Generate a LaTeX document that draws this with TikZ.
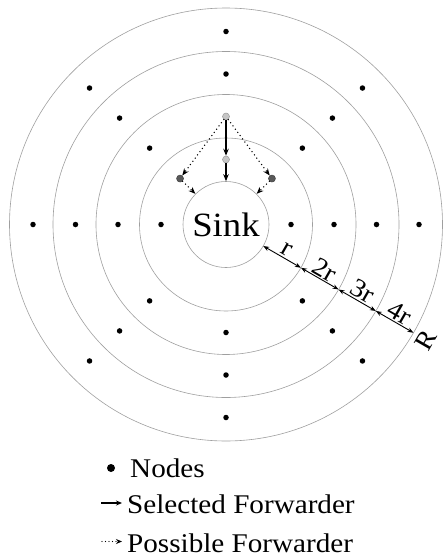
\documentclass[tikz,border=0pt]{standalone}
\usepackage{fontspec}
\setmainfont[FakeStretch=1.08]{Liberation Serif}
\usetikzlibrary{arrows.meta}
\begin{document}
\begin{tikzpicture}[x=1pt,y=-1pt,
  ring/.style={draw=gray!75, line width=0.6pt},
  dot/.style={circle, fill=black, inner sep=0pt, minimum size=5.5pt},
  lgdot/.style={circle, fill=gray!45, draw=gray!80, line width=0.5pt, inner sep=0pt, minimum size=7pt},
  dkdot/.style={circle, fill=gray!70!black, draw=gray!50!black, line width=0.5pt, inner sep=0pt, minimum size=7pt},
  sel/.style={line width=1.1pt, -{Stealth[length=7pt,width=5.5pt]}},
  posf/.style={line width=1.5pt, line cap=round, dash pattern=on 0pt off 4pt, -{Stealth[length=7pt,width=5.5pt]}},
  dim/.style={line width=0.9pt, {Stealth[length=6pt,width=4.5pt]}-{Stealth[length=6pt,width=4.5pt]}},
  lab/.style={font=\fontsize{26}{26}\selectfont, rotate=-30, anchor=south, inner sep=1.5pt},
  legtext/.style={font=\fontsize{27}{27}\selectfont, anchor=base west, inner sep=0pt}
]
\useasboundingbox (0,0) rectangle (443,557);
\coordinate (C) at (226,224.5);
% rings
\foreach \r in {86.5,130,173,216.5} \draw[ring] (C) circle[radius=\r pt];
\node[circle, draw=gray!75, line width=0.6pt, minimum size=86pt, inner sep=0pt,
      font=\fontsize{34}{34}\selectfont] (sink) at (C) {Sink};
% band 1
\foreach \a in {0,180,225,270,315}
  \node[dot] (b1-\a) at ([shift={(\a:65)}]C) {};
\node[lgdot] (g1) at ([shift={(-90:65)}]C) {};
\node[dkdot] (k1l) at ([shift={(-135:65)}]C) {};
\node[dkdot] (k1r) at ([shift={(-45:65)}]C) {};
% band 2
\foreach \a in {0,45,135,180,225,270,315}
  \node[dot] (b2-\a) at ([shift={(-\a:108)}]C) {};
\node[lgdot] (g2) at ([shift={(-90:108)}]C) {};
% band 3 and 4
\foreach \a in {0,45,90,135,180,225,270,315} {
  \node[dot] (b3-\a) at ([shift={(-\a:150.5)}]C) {};
  \node[dot] (b4-\a) at ([shift={(-\a:193)}]C) {};
}
% forwarding arrows
\draw[sel] (g2) -- (g1);
\draw[sel] (g1) -- (sink.north);
\draw[posf] (g2) -- (k1l);
\draw[posf] (g2) -- (k1r);
\draw[posf] (k1l) -- (sink.135);
\draw[posf] (k1r) -- (sink.45);
% dimension line
\coordinate (p0) at ([shift={(30:43)}]C);
\coordinate (p1) at ([shift={(30:86.5)}]C);
\coordinate (p2) at ([shift={(30:130)}]C);
\coordinate (p3) at ([shift={(30:173)}]C);
\coordinate (p4) at ([shift={(30:216.5)}]C);
\draw[dim] (p0) -- node[lab]{r} (p1);
\draw[dim] (p1) -- node[lab]{2r} (p2);
\draw[dim] (p2) -- node[lab]{3r} (p3);
\draw[dim] (p3) -- node[lab]{4r} (p4);
\node[font=\fontsize{26}{26}\selectfont, rotate=60, inner sep=0pt] (Rl) at ([shift={(30:231)}]C) {R};
% legend
\node[circle, fill=black, inner sep=0pt, minimum size=8pt] (legdot) at (111,468) {};
\node[legtext] (legn) at (130,477) {Nodes};
\coordinate (la1) at (101,503);
\coordinate (la2) at (122,503);
\draw[line width=1.1pt, -{Stealth[length=6pt,width=5pt]}] (la1) -- (la2);
\node[legtext] (legs) at (127,513) {Selected Forwarder};
\coordinate (lb1) at (102,541.5);
\coordinate (lb2) at (122,541.5);
\draw[line width=1.3pt, line cap=round, dash pattern=on 0pt off 3.5pt, -{Stealth[length=6pt,width=5pt]}] (lb1) -- (lb2);
\node[legtext] (legp) at (127,552) {Possible Forwarder};
\end{tikzpicture}
\end{document}
